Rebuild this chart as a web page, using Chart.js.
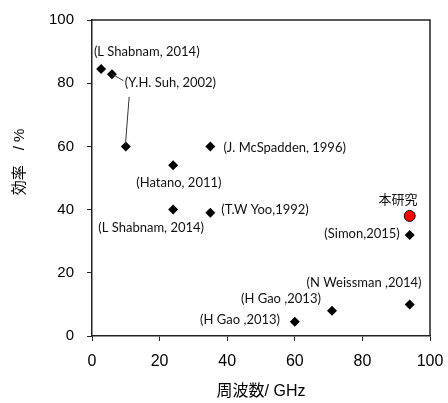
<!DOCTYPE html>
<html>
<head>
<meta charset="utf-8">
<script src="https://cdn.jsdelivr.net/npm/chart.js@4"></script>
<style>
  body { margin: 0; background: #fff; }
  #wrap { width: 448px; height: 403px; }
</style>
</head>
<body>
<div id="wrap"><canvas id="effChart" width="448" height="403"></canvas></div>
<script>
// Reported works: frequency (GHz) vs efficiency (%)
const freqGHz = [2.7, 5.9, 10, 24, 35, 24, 35, 94, 94, 71, 60];
const effPct  = [84.5, 82.8, 60, 54, 60, 40, 39, 32, 10, 8, 4.5];

// This work
const ownFreq = [94];
const ownEff  = [38];

// Axis ticks
const xTicks = [0, 20, 40, 60, 80, 100];
const yTicks = [0, 20, 40, 60, 80, 100];

// Annotation texts and their centre in data units
const noteText = ['(L Shabnam, 2014)', '(Y.H. Suh, 2002)', '(Hatano, 2011)', '(J. McSpadden, 1996)',
  '(L Shabnam, 2014)', '(T.W Yoo,1992)', '本研究', '(Simon,2015)', '(N Weissman ,2014)',
  '(H Gao ,2013)', '(H Gao ,2013)'];
const noteX = [16.2, 23.2, 25.7, 57.0, 17.5, 51.2, 90.5, 79.9, 80.5, 55.9, 43.8];
const noteY = [89.9, 80.1, 48.4, 59.5, 34.2, 39.9, 43.4, 32.3, 16.8, 11.7, 5.1];

// Leader lines [x1, y1, x2, y2] in data units
const leaders = [[5.9, 82.9, 9.3, 80.8], [11.0, 75.7, 9.9, 60.7]];

const boxAndNotes = {
  id: 'boxAndNotes',
  afterDraw(chart) {
    const c = chart.ctx, a = chart.chartArea;
    const xs = chart.scales.x, ys = chart.scales.y;
    c.save();
    // top and right frame
    c.strokeStyle = '#222';
    c.lineWidth = 1.5;
    c.beginPath();
    c.moveTo(a.left, a.top);
    c.lineTo(a.right, a.top);
    c.lineTo(a.right, a.bottom);
    c.stroke();
    // leader lines
    c.lineWidth = 1;
    c.strokeStyle = '#333';
    leaders.forEach(l => {
      c.beginPath();
      c.moveTo(xs.getPixelForValue(l[0]), ys.getPixelForValue(l[1]));
      c.lineTo(xs.getPixelForValue(l[2]), ys.getPixelForValue(l[3]));
      c.stroke();
    });
    // notes
    c.fillStyle = '#111';
    c.textAlign = 'center';
    c.textBaseline = 'middle';
    noteText.forEach((t, i) => {
      c.font = t === '本研究' ? '13px "Noto Sans CJK JP"' : '13px Lato';
      c.fillText(t, xs.getPixelForValue(noteX[i]), ys.getPixelForValue(noteY[i]));
    });
    // axis titles
    c.fillStyle = '#000';
    c.font = '16px "Liberation Sans", "Noto Sans CJK JP"';
    c.fillText('周波数/ GHz', (a.left + a.right) / 2, 392);
    c.translate(20, 162);
    c.rotate(-Math.PI / 2);
    c.font = '15px "Liberation Sans", "Noto Sans CJK JP"';
    c.fillText('効率　/ %', 0, 0);
    c.restore();
  }
};

new Chart(document.getElementById('effChart'), {
  type: 'scatter',
  data: {
    datasets: [{
      label: 'reported',
      data: freqGHz.map((x, i) => ({ x: x, y: effPct[i] })),
      pointStyle: 'rectRot',
      pointRadius: 5,
      backgroundColor: '#000',
      borderColor: '#000',
      borderWidth: 0
    }, {
      label: 'this work',
      data: ownFreq.map((x, i) => ({ x: x, y: ownEff[i] })),
      pointStyle: 'circle',
      pointRadius: 5.5,
      backgroundColor: '#ff0000',
      borderColor: '#111',
      borderWidth: 1
    }]
  },
  options: {
    responsive: false,
    animation: false,
    layout: { padding: { top: 20, right: 18, left: 0, bottom: 0 } },
    plugins: { legend: { display: false }, tooltip: { enabled: false } },
    scales: {
      x: {
        type: 'linear', min: 0, max: 100,
        afterFit: s => { s.height = 67; s.paddingLeft = 0; s.paddingRight = 0; },
        afterBuildTicks: s => { s.ticks = xTicks.map(v => ({ value: v })); },
        grid: { drawOnChartArea: false, drawTicks: true, tickLength: 5, color: '#222' },
        border: { color: '#222', width: 1.5 },
        ticks: { color: '#000', padding: 11, font: { family: '"Liberation Sans"', size: 16 } }
      },
      y: {
        type: 'linear', min: 0, max: 100,
        afterFit: s => { s.width = 92; s.paddingTop = 0; s.paddingBottom = 0; },
        afterBuildTicks: s => { s.ticks = yTicks.map(v => ({ value: v })); },
        grid: { drawOnChartArea: false, drawTicks: true, tickLength: 5, color: '#222' },
        border: { color: '#222', width: 1.5 },
        ticks: { color: '#000', padding: 13, font: { family: '"Liberation Sans"', size: 15 } }
      }
    }
  },
  plugins: [boxAndNotes]
});
</script>
</body>
</html>
